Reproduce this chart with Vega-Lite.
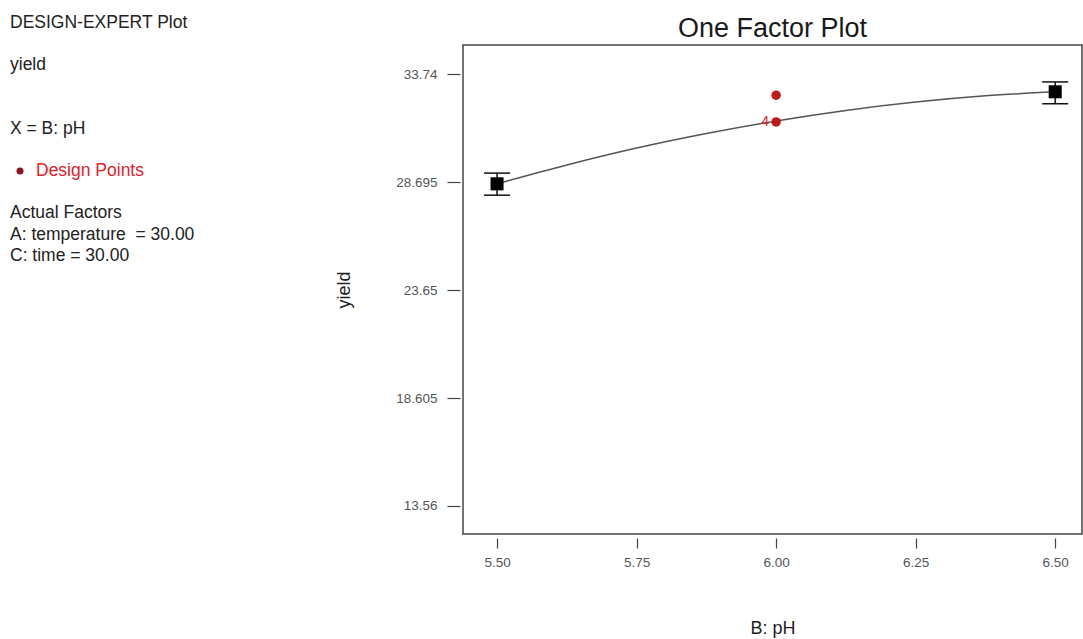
{
  "$schema": "https://vega.github.io/schema/vega-lite/v6.json",
  "padding": {"left": 10, "top": 13, "right": 0, "bottom": 0},
  "autosize": {"type": "pad"},
  "background": "white",
  "spacing": 0,
  "bounds": "flush",
  "config": {"font": "Liberation Sans", "view": {"stroke": null}},
  "datasets": {
    "info": [
      {"line": 0, "col": 0, "label": "DESIGN-EXPERT Plot", "kind": "text"},
      {"line": 2, "col": 0, "label": "yield", "kind": "text"},
      {"line": 5, "col": 0, "label": "X = B: pH", "kind": "text"},
      {"line": 7, "col": 2.6, "label": "Design Points", "kind": "legend"},
      {"line": 9, "col": 0, "label": "Actual Factors", "kind": "text"},
      {"line": 10, "col": 0, "label": "A: temperature \u00a0= 30.00", "kind": "text"},
      {"line": 11, "col": 0, "label": "C: time = 30.00", "kind": "text"}
    ],
    "curve": [
      {"pH": 5.5, "yield": 28.61},
      {"pH": 5.625, "yield": 29.49},
      {"pH": 5.75, "yield": 30.28},
      {"pH": 5.875, "yield": 30.96},
      {"pH": 6.0, "yield": 31.55},
      {"pH": 6.125, "yield": 32.04},
      {"pH": 6.25, "yield": 32.43},
      {"pH": 6.375, "yield": 32.72},
      {"pH": 6.5, "yield": 32.91}
    ],
    "means": [
      {"pH": 5.5, "yield": 28.61, "lo": 28.08, "hi": 29.11},
      {"pH": 6.5, "yield": 32.91, "lo": 32.35, "hi": 33.37}
    ],
    "design": [
      {"pH": 6.0, "yield": 32.75, "count": ""},
      {"pH": 6.0, "yield": 31.5, "count": "4"}
    ]
  },
  "hconcat": [
    {
      "width": 453,
      "height": 489,
      "data": {"name": "info"},
      "layer": [
        {
          "mark": {"type": "text", "align": "left", "baseline": "middle", "fontSize": 17.5},
          "encoding": {
            "x": {"field": "col", "type": "quantitative", "scale": {"domain": [0, 45.3], "nice": false, "zero": false}, "axis": null},
            "y": {"field": "line", "type": "quantitative", "scale": {"domain": [1.052, 24.12], "reverse": true, "nice": false, "zero": false}, "axis": null},
            "text": {"field": "label"},
            "color": {"field": "kind", "type": "nominal", "scale": {"domain": ["text", "legend"], "range": ["#222222", "#e3202b"]}, "legend": null}
          }
        },
        {
          "transform": [{"filter": "datum.kind === 'legend'"}],
          "mark": {"type": "circle", "size": 50, "opacity": 1, "color": "#8e1420"},
          "encoding": {
            "x": {"datum": 1.0, "type": "quantitative"},
            "y": {"field": "line", "type": "quantitative"}
          }
        }
      ]
    },
    {
      "width": 619,
      "height": 489,
      "view": {"stroke": "#444444", "strokeWidth": 1.5},
      "title": {"text": "One Factor Plot", "fontSize": 27, "fontWeight": "normal", "color": "#1a1a1a", "baseline": "alphabetic", "offset": -19, "anchor": "middle"},
      "layer": [
        {
          "data": {"name": "curve"},
          "mark": {"type": "line", "interpolate": "monotone", "color": "#555555", "strokeWidth": 1.5},
          "encoding": {
            "x": {
              "field": "pH", "type": "quantitative",
              "scale": {"domain": [5.439, 6.548], "nice": false, "zero": false},
              "axis": {"title": "B: pH", "values": [5.5, 5.75, 6, 6.25, 6.5], "format": ".2f", "offset": 4, "domain": false, "grid": false, "tickSize": 10, "tickColor": "#444444", "tickWidth": 1.2, "labelFontSize": 13.5, "labelColor": "#555555", "labelPadding": 7, "labelFlush": false, "titleFontSize": 18, "titleFontWeight": "normal", "titleColor": "#222222", "titlePadding": 51}
            },
            "y": {
              "field": "yield", "type": "quantitative",
              "scale": {"domain": [12.252, 35.095], "nice": false, "zero": false},
              "axis": {"title": "yield", "values": [13.56, 18.605, 23.65, 28.695, 33.74], "format": ".5~g", "offset": 3, "domain": false, "grid": false, "tickSize": 13, "tickColor": "#444444", "tickWidth": 1.2, "labelFontSize": 13.5, "labelColor": "#555555", "labelPadding": 10, "labelFlush": false, "titleFontSize": 18, "titleFontWeight": "normal", "titleColor": "#222222", "titlePadding": 42}
            }
          }
        },
        {
          "data": {"name": "means"},
          "mark": {"type": "rule", "color": "#111111", "strokeWidth": 1.5},
          "encoding": {
            "x": {"field": "pH", "type": "quantitative"},
            "y": {"field": "lo", "type": "quantitative"},
            "y2": {"field": "hi"}
          }
        },
        {
          "data": {"name": "means"},
          "mark": {"type": "tick", "orient": "horizontal", "size": 26, "thickness": 1.5, "color": "#111111", "opacity": 1},
          "encoding": {
            "x": {"field": "pH", "type": "quantitative"},
            "y": {"field": "lo", "type": "quantitative"}
          }
        },
        {
          "data": {"name": "means"},
          "mark": {"type": "tick", "orient": "horizontal", "size": 26, "thickness": 1.5, "color": "#111111", "opacity": 1},
          "encoding": {
            "x": {"field": "pH", "type": "quantitative"},
            "y": {"field": "hi", "type": "quantitative"}
          }
        },
        {
          "data": {"name": "means"},
          "mark": {"type": "point", "shape": "square", "filled": true, "size": 170, "color": "#000000", "opacity": 1},
          "encoding": {
            "x": {"field": "pH", "type": "quantitative"},
            "y": {"field": "yield", "type": "quantitative"}
          }
        },
        {
          "data": {"name": "design"},
          "mark": {"type": "circle", "size": 90, "color": "#c01818", "opacity": 1},
          "encoding": {
            "x": {"field": "pH", "type": "quantitative"},
            "y": {"field": "yield", "type": "quantitative"}
          }
        },
        {
          "data": {"name": "design"},
          "mark": {"type": "text", "align": "right", "baseline": "middle", "dx": -7, "fontSize": 14, "color": "#e02020"},
          "encoding": {
            "x": {"field": "pH", "type": "quantitative"},
            "y": {"field": "yield", "type": "quantitative"},
            "text": {"field": "count"}
          }
        }
      ]
    }
  ]
}
